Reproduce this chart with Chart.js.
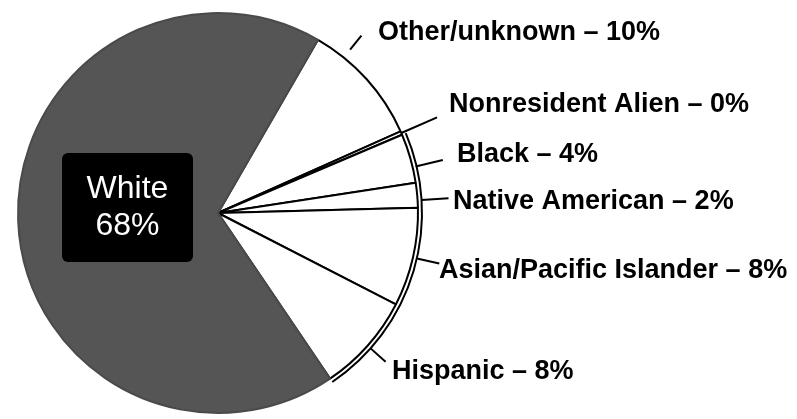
<!DOCTYPE html>
<html>
<head>
<meta charset="utf-8">
<script src="https://cdn.jsdelivr.net/npm/chart.js@4.4.0/dist/chart.umd.min.js"></script>
<style>
  html, body { margin: 0; padding: 0; background: #fff; }
  #wrap { width: 797px; height: 419px; position: relative; }
</style>
</head>
<body>
<div id="wrap"><canvas id="pie"></canvas></div>
<script>
// ── Data ───────────────────────────────────────────────────────
const CATEGORIES = ['Other/unknown', 'Nonresident Alien', 'Black', 'Native American',
                    'Asian/Pacific Islander', 'Hispanic', 'White'];
const PERCENTS   = [10, 0.3, 4, 2, 8, 8, 68];

// ── Styling / layout ───────────────────────────────────────────
const SLICE_FILLS   = ['#fff', '#fff', '#fff', '#fff', '#fff', '#fff', '#555'];
const SLICE_BORDERS = ['#000', '#000', '#000', '#000', '#000', '#000', '#4a4a4a'];
const RIM_FROM = 'Black', RIM_TO = 'Hispanic', RIM_GAP = 4;
const LABEL_FONT = 'bold 27px "Liberation Sans", Arial, sans-serif';

// callout per slice: text anchor (left, middle) + leader (fraction along slice, start/end distance past the rim)
const CALLOUTS = {
    'Other/unknown':          { tx: 378, ty: 33,  frac: 0.25, r0: 10, r1: 28 },
    'Nonresident Alien':      { tx: 449, ty: 105, frac: 0.5,  r0: 0,  r1: 39 },
    'Black':                  { tx: 457, ty: 155, frac: 0.68, r0: 3,  r1: 31 },
    'Native American':        { tx: 453, ty: 202, frac: 0.7,  r0: 4,  r1: 31 },
    'Asian/Pacific Islander': { tx: 439, ty: 271, frac: 0.5,  r0: 4,  r1: 27 },
    'Hispanic':               { tx: 392, ty: 372, frac: 0.5,  r0: 4,  r1: 24 },
};
// the big slice gets a black box label instead (offset from pie centre)
const BOX_LABEL = { name: 'White', dx: -90.5, dy: -5.5, w: 131, h: 109 };

const pct = v => Math.round(v) + '%';

const calloutPlugin = {
    id: 'callouts',
    afterDatasetsDraw(chart) {
        const ctx = chart.ctx;
        const arcs = chart.getDatasetMeta(0).data;
        const cx = arcs[0].x, cy = arcs[0].y, R = arcs[0].outerRadius;
        ctx.save();
        ctx.strokeStyle = '#000';
        ctx.lineWidth = 2;

        // outer rim round the small groups
        const a0 = arcs[CATEGORIES.indexOf(RIM_FROM)].startAngle;
        const a1 = arcs[CATEGORIES.indexOf(RIM_TO)].endAngle;
        ctx.beginPath();
        ctx.arc(cx, cy, R + RIM_GAP, a0, a1);
        ctx.stroke();

        // leader lines + labels
        ctx.font = LABEL_FONT;
        ctx.fillStyle = '#000';
        ctx.textAlign = 'left';
        ctx.textBaseline = 'middle';
        CATEGORIES.forEach((name, i) => {
            const c = CALLOUTS[name];
            if (!c) return;
            const el = arcs[i];
            const a = el.startAngle + c.frac * (el.endAngle - el.startAngle);
            ctx.beginPath();
            ctx.moveTo(cx + (R + c.r0) * Math.cos(a), cy + (R + c.r0) * Math.sin(a));
            ctx.lineTo(cx + (R + c.r1) * Math.cos(a), cy + (R + c.r1) * Math.sin(a));
            ctx.stroke();
            ctx.fillText(name + ' \u2013 ' + pct(PERCENTS[i]), c.tx, c.ty);
        });

        // boxed label for the big slice
        const bi = CATEGORIES.indexOf(BOX_LABEL.name);
        const bx = cx + BOX_LABEL.dx, by = cy + BOX_LABEL.dy;
        ctx.fillStyle = '#000';
        ctx.beginPath();
        ctx.roundRect(bx - BOX_LABEL.w / 2, by - BOX_LABEL.h / 2, BOX_LABEL.w, BOX_LABEL.h, 6);
        ctx.fill();
        ctx.fillStyle = '#fff';
        ctx.font = '32px "Liberation Sans", Arial, sans-serif';
        ctx.textAlign = 'center';
        ctx.textBaseline = 'alphabetic';
        ctx.fillText(CATEGORIES[bi], bx, by - 9.5);
        ctx.fillText(pct(PERCENTS[bi]), bx, by + 27.5);
        ctx.restore();
    },
};

new Chart(document.getElementById('pie').getContext('2d'), {
    type: 'pie',
    data: {
        labels: CATEGORIES,
        datasets: [{
            data: PERCENTS,
            backgroundColor: SLICE_FILLS,
            borderColor: SLICE_BORDERS,
            borderWidth: 2,
        }],
    },
    options: {
        responsive: true,
        maintainAspectRatio: false,
        animation: false,
        events: [],
        rotation: 30,
        layout: { padding: { left: 17, right: 378, top: 12, bottom: 5 } },
        plugins: {
            legend: { display: false },
            tooltip: { enabled: false },
        },
    },
    plugins: [calloutPlugin],
});
</script>
</body>
</html>
